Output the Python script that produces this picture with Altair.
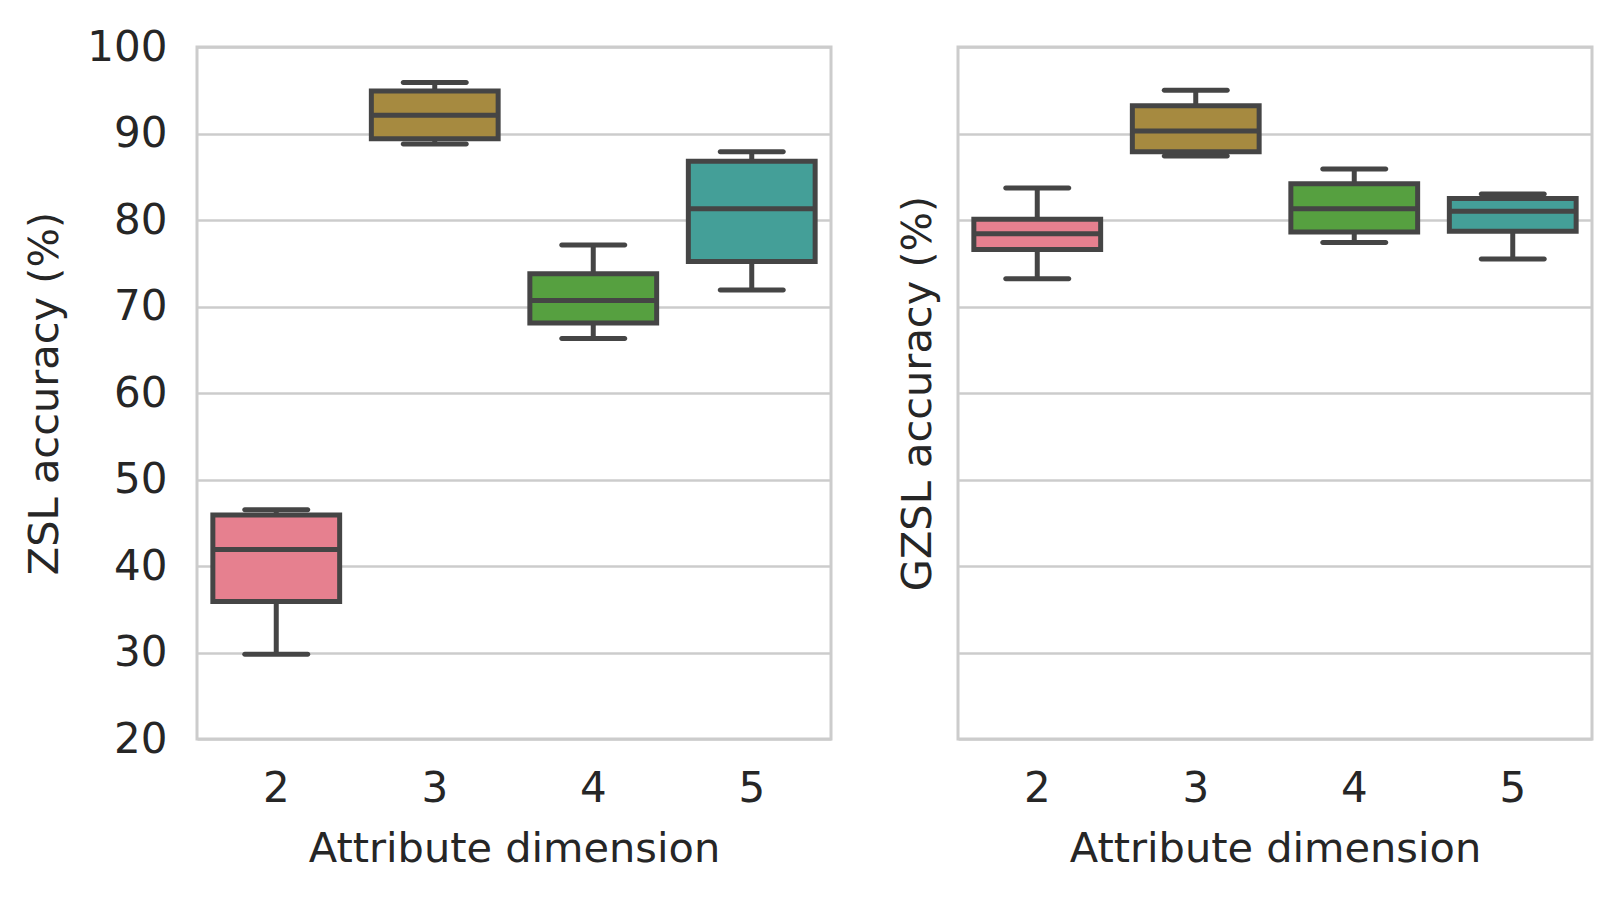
import altair as alt
import pandas as pd

dims = ["2", "3", "4", "5"]
colors = ["#e6808f", "#a68a40", "#56a040", "#449f98"]

zsl_min = [29.8, 88.8, 66.3, 71.9]
zsl_q1 = [35.9, 89.4, 68.1, 75.2]
zsl_med = [41.9, 92.1, 70.7, 81.3]
zsl_q3 = [45.9, 94.9, 73.8, 86.8]
zsl_max = [46.5, 95.9, 77.1, 87.9]

gzsl_min = [73.2, 87.4, 77.4, 75.5]
gzsl_q1 = [76.6, 87.9, 78.6, 78.7]
gzsl_med = [78.4, 90.3, 81.3, 81.0]
gzsl_q3 = [80.1, 93.2, 84.2, 82.5]
gzsl_max = [83.7, 95.0, 85.9, 83.0]

y_ticks = [20, 30, 40, 50, 60, 70, 80, 90, 100]

FONT = "DejaVu Sans"
TXT = "#262626"
LINE = "#454545"
W, H = 634, 692


def panel(mins, q1s, meds, q3s, maxs, ytitle, show_labels, title_pad):
    df = pd.DataFrame({"dim": dims, "lo": mins, "q1": q1s, "med": meds,
                       "q3": q3s, "hi": maxs})
    x = alt.X("dim:O", sort=dims, title="Attribute dimension",
              scale=alt.Scale(paddingInner=0, paddingOuter=0),
              axis=alt.Axis(labelAngle=0, ticks=False, domain=False, grid=False,
                            labelPadding=29, titlePadding=19,
                            labelFontSize=42, titleFontSize=41.5,
                            labelFont=FONT, titleFont=FONT,
                            labelColor=TXT, titleColor=TXT,
                            titleFontWeight="normal"))
    yscale = alt.Scale(domain=[20, 100], nice=False, zero=False)
    yaxis = alt.Axis(values=y_ticks, ticks=False, domain=False, grid=True,
                     gridColor="#cccccc", gridWidth=2.4,
                     labels=show_labels, labelPadding=30,
                     titlePadding=title_pad,
                     labelFontSize=42, titleFontSize=41.5,
                     labelFont=FONT, titleFont=FONT,
                     labelColor=TXT, titleColor=TXT,
                     titleFontWeight="normal")
    base = alt.Chart(df).encode(x=x)
    whisk = base.mark_rule(color=LINE, strokeWidth=5).encode(
        y=alt.Y("lo:Q", scale=yscale, axis=yaxis, title=ytitle), y2="hi:Q")
    caps_lo = base.mark_tick(color=LINE, size=68, thickness=5, cornerRadius=2.5,
                             opacity=1).encode(y=alt.Y("lo:Q"))
    caps_hi = base.mark_tick(color=LINE, size=68, thickness=5, cornerRadius=2.5,
                             opacity=1).encode(y=alt.Y("hi:Q"))
    box = base.mark_bar(width={"band": 0.8}, stroke=LINE, strokeWidth=5,
                        opacity=1).encode(
        y=alt.Y("q1:Q"), y2="q3:Q",
        color=alt.Color("dim:N", scale=alt.Scale(domain=dims, range=colors),
                        legend=None))
    med = base.mark_tick(color=LINE, size=127, thickness=5, opacity=1).encode(
        y=alt.Y("med:Q"))
    return alt.layer(whisk, caps_lo, caps_hi, box, med).properties(width=W, height=H)


left = panel(zsl_min, zsl_q1, zsl_med, zsl_q3, zsl_max, "ZSL accuracy (%)", True, 20)
right = panel(gzsl_min, gzsl_q1, gzsl_med, gzsl_q3, gzsl_max, "GZSL accuracy (%)", False, 19)

chart = alt.hconcat(left, right, spacing=62).configure_view(
    stroke="#cccccc", strokeWidth=3
).properties(
    padding={"left": 15, "top": 16, "right": 5, "bottom": 5},
    background="white"
)

chart.save("out.html", embed_options={"renderer": "svg", "actions": False})
